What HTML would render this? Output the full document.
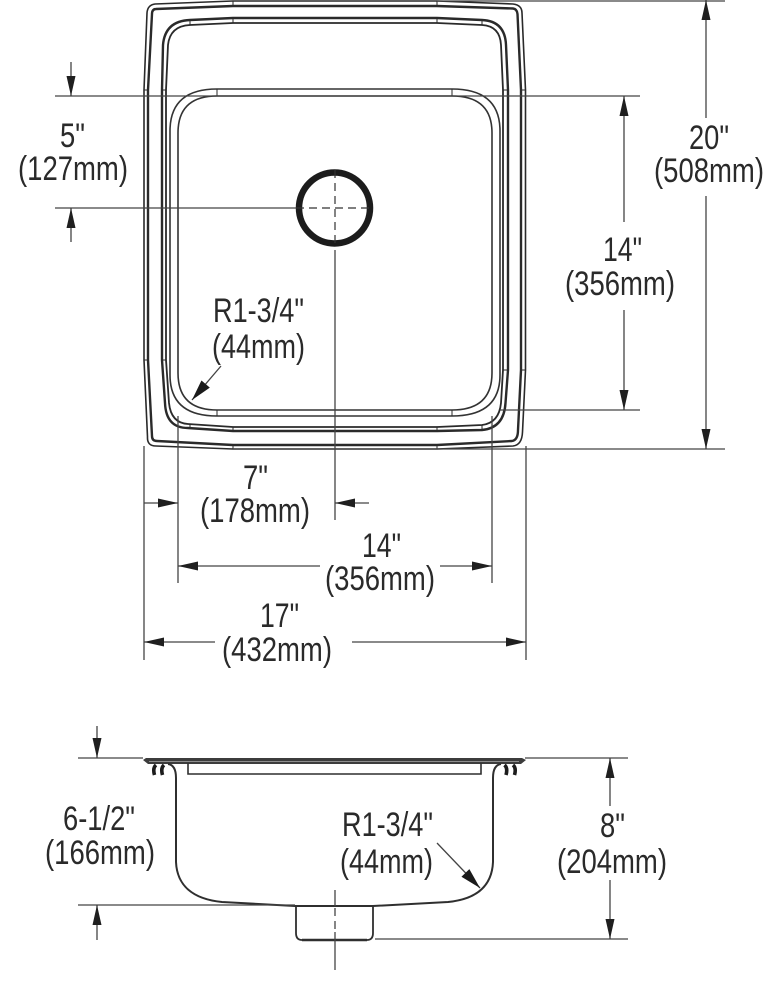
<!DOCTYPE html>
<html>
<head>
<meta charset="utf-8">
<style>
html,body{margin:0;padding:0;background:#fff;}
svg{display:block;}
text{font-family:"Liberation Sans",sans-serif;font-size:34px;fill:#2a2a2a;}
</style>
</head>
<body>
<svg width="782" height="990" viewBox="0 0 782 990" xmlns="http://www.w3.org/2000/svg">
<defs>
<path id="ah" d="M0 0L-20 -4.500L-20 4.500Z" fill="#1f1f1f"/>
<path id="ar" d="M0 0L-21 -5.500L-21 5.500Z" fill="#1a1a1a"/>
</defs>

<!-- top view: rim -->
<g fill="none" stroke="#2a2a2a" stroke-width="1.600">
<path d="M233 1H437L513 4Q522 5 522 13L525.500 90V370L522.500 432Q522 445 513 446L437 449H233L156 446Q147 446 147.500 437L144 360V90L147 13Q147.500 5 155 4Z"/>
<path d="M233 6H437L513 8.500Q517 9 517.500 14L521 90V370L518 430Q518 440 512 441L437 445H233L157 441Q152 441 152 436L148 360V90L152 14Q152 9 156 9Z" stroke-width="2.400"/>
<!-- second rim -->
<path d="M233 18H437L482 20Q505 21 506 45L508 90V370L505.500 403Q504 428 482 430L437 431H233L188 428Q166 428 165 403L162 360V90L163 45Q165 21 190 20Z" stroke-width="2.400"/>
<path d="M233 23H437L482 25Q500 26 501 45L503 90V370L501 403Q499 423 482 425L437 427H233L188 424Q171 423 169 403L166 360V90L168 45Q170 26 190 25Z" stroke-width="1.800"/>
<!-- bowl -->
<path d="M217 89H452Q500 89 500 131V375Q500 416 452 416H217Q170 416 170 375V131Q170 89 217 89Z" stroke="#333"/>
<path d="M217 96H452Q492 96 492 133V373Q492 410 452 410H217Q178 410 178 373V133Q178 96 217 96Z" stroke="#333"/>
<path d="M217 89V96M452 89V96M217 410V416M452 410V416M233 1V6M437 1V6M233 18V23M437 18V23M233 445V449M437 445V449M233 427V431M437 427V431M190 20V25M482 20V25M190 424V428M482 425V430M144 90H148M162 90H166M503 90H508M521 90H525.500M144 360H148M162 360H166M503 370H508M521 370H525.500" stroke-width="1"/>
</g>

<!-- drain -->
<circle cx="334.500" cy="208" r="35.500" fill="#fff" stroke="#1c1c1c" stroke-width="6.500"/>
<path d="M296 208H373M335 170V248" stroke="#333" stroke-width="1.200" stroke-dasharray="8 5" fill="none"/>

<!-- dimension lines top view -->
<g fill="none" stroke="#444" stroke-width="1.300">
<path d="M55 96H640M55 208H296M500 410H640M437 1H725M233 449H725"/>
<path d="M71 62V96M71 208V242"/>
<path d="M706 0V118M706 196V449"/>
<path d="M624 96V222M624 310V410"/>
<path d="M144 446V660M526 446V660M178 416V583M492 416V583M335 250V520"/>
<path d="M144 503H178M335 503H369M178 566H320M440 566H492M144 642H215M352 642H526"/>
<path d="M221 366L192 400"/>
</g>
<g>
<use href="#ah" transform="translate(71 96) rotate(90)"/>
<use href="#ah" transform="translate(71 208) rotate(-90)"/>
<use href="#ah" transform="translate(706 0) rotate(-90)"/>
<use href="#ah" transform="translate(706 449) rotate(90)"/>
<use href="#ah" transform="translate(624 96) rotate(-90)"/>
<use href="#ah" transform="translate(624 410) rotate(90)"/>
<use href="#ah" transform="translate(178 503)"/>
<use href="#ah" transform="translate(335 503) rotate(180)"/>
<use href="#ah" transform="translate(178 566) rotate(180)"/>
<use href="#ah" transform="translate(492 566)"/>
<use href="#ah" transform="translate(144 642) rotate(180)"/>
<use href="#ah" transform="translate(526 642)"/>
<use href="#ar" transform="translate(192 400) rotate(130.500)"/>
</g>

<!-- side view -->
<g fill="none" stroke="#2f2f2f" stroke-width="1.800">
<path d="M143 760L146 758H522L526 760L521 764H148Z" fill="#3c3c3c" stroke="none"/>
<path d="M149 761.500H519" stroke="#aaa" stroke-width="0.800"/>
<path d="M168 764Q176 765 176 778V862M501 764Q493 765 493 778V862" stroke-width="2"/>
<path d="M176 862C177 885 192 899 222 902L295 906H373L448 902C478 899 492 885 493 862" stroke-width="2"/>
<path d="M188 763V774H481V763" stroke-width="1.600"/>
<path d="M296 906V933Q296 940 302 940H367Q373 940 373 933V906" stroke-width="1.800"/>
<path d="M302 940H367" stroke-width="2.600"/>
<path d="M154.500 775Q152.500 768 156 765M162.500 775Q160.500 768 164 765M506 775Q508 768 504.500 765M514.500 775Q516.500 768 513 765" stroke="#1c1c1c" stroke-width="3.600"/>
</g>
<g fill="none" stroke="#444" stroke-width="1.300">
<path d="M78 758H143M525 758H628M78 905H295M375 939H628"/>
<path d="M97 726V758M97 905V940"/>
<path d="M610 758V806M610 880V939"/>
<path d="M335 890V906M335 932V970"/>
<path d="M335 908V930" stroke-dasharray="8 5"/>
<path d="M437 843L480 888"/>
</g>
<g>
<use href="#ah" transform="translate(97 758) rotate(90)"/>
<use href="#ah" transform="translate(97 905) rotate(-90)"/>
<use href="#ah" transform="translate(610 758) rotate(-90)"/>
<use href="#ah" transform="translate(610 939) rotate(90)"/>
<use href="#ar" transform="translate(480 888) rotate(46)"/>
</g>

<!-- labels -->
<g>
<text x="60" y="147" textLength="25" lengthAdjust="spacingAndGlyphs">5"</text>
<text x="18" y="180" textLength="110" lengthAdjust="spacingAndGlyphs">(127mm)</text>
<text x="689" y="149" textLength="40" lengthAdjust="spacingAndGlyphs">20"</text>
<text x="654" y="182" textLength="110" lengthAdjust="spacingAndGlyphs">(508mm)</text>
<text x="603" y="261" textLength="39" lengthAdjust="spacingAndGlyphs">14"</text>
<text x="565" y="295" textLength="110" lengthAdjust="spacingAndGlyphs">(356mm)</text>
<text x="213" y="322" textLength="91" lengthAdjust="spacingAndGlyphs">R1-3/4"</text>
<text x="212" y="358" textLength="93" lengthAdjust="spacingAndGlyphs">(44mm)</text>
<text x="243" y="489" textLength="25" lengthAdjust="spacingAndGlyphs">7"</text>
<text x="200" y="522" textLength="110" lengthAdjust="spacingAndGlyphs">(178mm)</text>
<text x="362" y="557" textLength="39" lengthAdjust="spacingAndGlyphs">14"</text>
<text x="325" y="590" textLength="110" lengthAdjust="spacingAndGlyphs">(356mm)</text>
<text x="260" y="627" textLength="39" lengthAdjust="spacingAndGlyphs">17"</text>
<text x="222" y="661" textLength="110" lengthAdjust="spacingAndGlyphs">(432mm)</text>
<text x="63" y="830" textLength="72" lengthAdjust="spacingAndGlyphs">6-1/2"</text>
<text x="45" y="864" textLength="110" lengthAdjust="spacingAndGlyphs">(166mm)</text>
<text x="600" y="837" textLength="25" lengthAdjust="spacingAndGlyphs">8"</text>
<text x="557" y="873" textLength="110" lengthAdjust="spacingAndGlyphs">(204mm)</text>
<text x="342" y="836" textLength="91" lengthAdjust="spacingAndGlyphs">R1-3/4"</text>
<text x="340" y="873" textLength="93" lengthAdjust="spacingAndGlyphs">(44mm)</text>
</g>
</svg>
</body>
</html>
